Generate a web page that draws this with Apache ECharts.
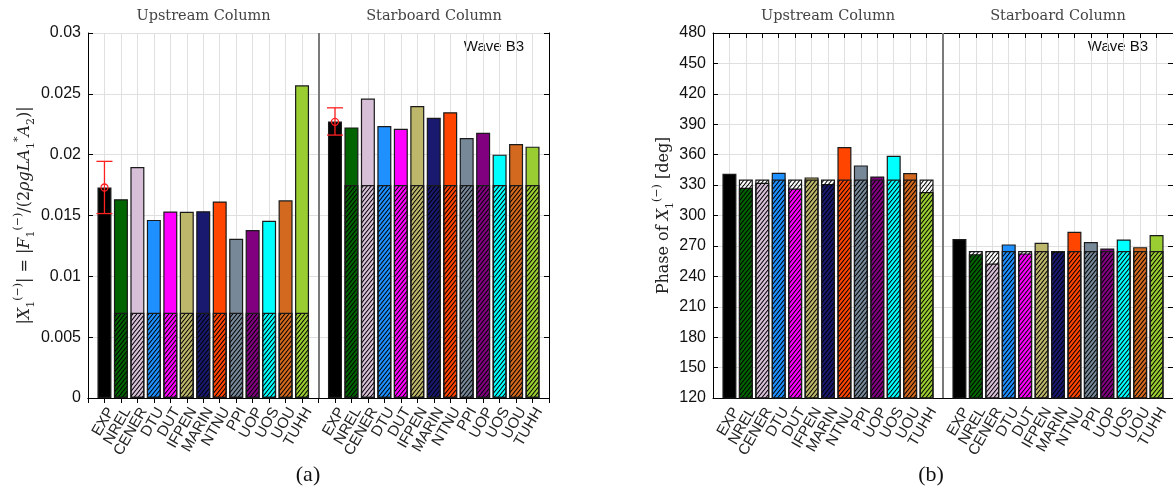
<!DOCTYPE html>
<html><head><meta charset="utf-8">
<script src="https://cdn.jsdelivr.net/npm/echarts@6/dist/echarts.min.js"></script>
<style>html,body{margin:0;padding:0;background:#fff}#c{width:1173px;height:489px}</style>
</head><body><div id="c"></div>
<script>
// ---- data ----
const models = ['EXP','NREL','CENER','DTU','DUT','IFPEN','MARIN','NTNU','PPI','UOP','UOS','UOU','TUHH'];
const modelColors = ['#000000','#006400','#D8BFD8','#1E90FF','#FF00FF','#BDB76B','#191970','#FF4500','#778899','#800080','#00FFFF','#D2691E','#9ACD32'];
const ampUpstream = [0.0173,0.01634,0.01898,0.01464,0.01533,0.0153,0.01535,0.01615,0.01308,0.0138,0.01456,0.01625,0.0257];
const ampStarboard = [0.02273,0.02224,0.02461,0.02235,0.02213,0.02399,0.02303,0.02349,0.02136,0.0218,0.0200,0.02087,0.02066];
const ampHatchUpstream = 0.007;
const ampHatchStarboard = 0.0175;
const expErrUpstream = [0.01516, 0.01945, 0.0173];
const expErrStarboard = [0.02161, 0.02385, 0.0227];
const phaseUpstream = [341.2,327.3,332.3,342.1,326.7,337.6,331.0,367.5,349.4,338.5,358.9,341.8,323.1];
const phaseStarboard = [276.8,261.9,252.7,271.5,262.6,273.1,264.2,283.9,273.8,267.5,276.4,268.8,280.7];
const phaseHatchUpstream = 335.5;
const phaseHatchStarboard = 265;
const ampAxis = {min: 0, max: 0.03, interval: 0.005};
const phaseAxis = {min: 120, max: 480, interval: 30};

// ---- build ----
const xLabels = [''].concat(models, [''], models, ['']);
const cats = xLabels.map((_, i) => String(i));
const SEP = 14;

function coloredData(up, st) {
  const d = [];
  for (let i = 0; i < xLabels.length; i++) d.push('-');
  up.forEach((v, k) => { d[1 + k] = {value: v, itemStyle: {color: modelColors[k]}}; });
  st.forEach((v, k) => { d[SEP + 1 + k] = {value: v, itemStyle: {color: modelColors[k]}}; });
  return d;
}
function hatchData(hu, hs) {
  const d = [];
  for (let i = 0; i < xLabels.length; i++) d.push('-');
  for (let k = 1; k < models.length; k++) { d[1 + k] = hu; d[SEP + 1 + k] = hs; }
  return d;
}

// hatch pattern
const pc = document.createElement('canvas');
const PW = 4, PH = 5;
pc.width = PW; pc.height = PH;
const pctx = pc.getContext('2d');
pctx.strokeStyle = '#000';
pctx.lineWidth = 1.05;
for (let k = -1; k <= 1; k++) {
  pctx.beginPath(); pctx.moveTo(k * PW, PH); pctx.lineTo(k * PW + PW, 0); pctx.stroke();
}
const hatchFill = {image: pc, repeat: 'repeat'};

const sansFont = 'Liberation Sans';
const serifFont = 'DejaVu Serif';

function xAxes(gi) {
  return [
    {type: 'category', gridIndex: gi, data: cats, boundaryGap: false, position: 'bottom',
     axisLine: {lineStyle: {color: '#000', width: 1}},
     axisTick: {show: true, inside: true, length: 5, interval: 0, lineStyle: {color: '#000'}},
     axisLabel: {interval: 0, rotate: 60, margin: 7, verticalAlign: 'top', fontFamily: sansFont, fontSize: 15, color: '#222',
       formatter: (v) => xLabels[+v]},
     splitLine: {show: true, interval: 0, lineStyle: {color: '#e0e0e0', width: 1}}},
    {type: 'category', gridIndex: gi, data: cats, boundaryGap: false, position: 'top',
     axisLine: {lineStyle: {color: '#000', width: 1}},
     axisTick: {show: true, inside: true, length: 5, interval: 0, lineStyle: {color: '#000'}},
     axisLabel: {show: false}, splitLine: {show: false}}
  ];
}
const nameRich = {
  i: {fontFamily: serifFont, fontStyle: 'italic', fontSize: 16, color: '#222'},
  v: {fontFamily: serifFont, fontSize: 16, color: '#222'},
  s: {fontFamily: serifFont, fontSize: 11, color: '#222', verticalAlign: 'bottom'},
  p: {fontFamily: serifFont, fontSize: 11, color: '#222', verticalAlign: 'top'}
};
function yAxes(gi, ax, name, nameGap, fmt) {
  return [
    {type: 'value', gridIndex: gi, position: 'left', min: ax.min, max: ax.max, interval: ax.interval,
     axisLine: {show: true, lineStyle: {color: '#000', width: 1}},
     axisTick: {show: true, inside: true, length: 5, lineStyle: {color: '#000'}},
     axisLabel: {fontFamily: sansFont, fontSize: 16, color: '#111', margin: 7, formatter: fmt},
     splitLine: {show: true, lineStyle: {color: '#e0e0e0', width: 1}},
     name: name, nameLocation: 'middle', nameGap: nameGap,
     nameTextStyle: {fontFamily: serifFont, fontSize: 16, color: '#222', lineHeight: 24, rich: nameRich}},
    {type: 'value', gridIndex: gi, position: 'right', min: ax.min, max: ax.max, interval: ax.interval,
     axisLine: {show: true, lineStyle: {color: '#000', width: 1}},
     axisTick: {show: true, inside: true, length: 5, lineStyle: {color: '#000'}},
     axisLabel: {show: false}, splitLine: {show: false}}
  ];
}

function barSeries(xi, yi, colored, hatch) {
  return [
    {type: 'bar', xAxisIndex: xi, yAxisIndex: yi, data: colored, barWidth: 14, barGap: '-100%', clip: true,
     itemStyle: {borderColor: '#1a1a1a', borderWidth: 1.2},
     markLine: {silent: true, symbol: ['none', 'none'], label: {show: false},
       lineStyle: {color: '#7a7a7a', width: 2, type: 'solid'},
       data: [{xAxis: String(SEP)}]}},
    {type: 'bar', xAxisIndex: xi, yAxisIndex: yi, data: hatch, barWidth: 14, barGap: '-100%', clip: true,
     itemStyle: {color: hatchFill, borderColor: '#1a1a1a', borderWidth: 1.2}}
  ];
}

function errorSeries(xi, yi, data) {
  return {type: 'custom', xAxisIndex: xi, yAxisIndex: yi, data: data, z: 10,
    renderItem: function (params, api) {
      const x = api.value(0);
      const lo = api.coord([x, api.value(1)]);
      const hi = api.coord([x, api.value(2)]);
      const mid = api.coord([x, api.value(3)]);
      const hw = 8;
      const st = {stroke: '#ff2020', lineWidth: 1.3, fill: 'none'};
      return {type: 'group', children: [
        {type: 'line', shape: {x1: lo[0], y1: lo[1], x2: hi[0], y2: hi[1]}, style: st},
        {type: 'line', shape: {x1: lo[0] - hw, y1: lo[1], x2: lo[0] + hw, y2: lo[1]}, style: st},
        {type: 'line', shape: {x1: hi[0] - hw, y1: hi[1], x2: hi[0] + hw, y2: hi[1]}, style: st},
        {type: 'circle', shape: {cx: mid[0], cy: mid[1], r: 3.5}, style: {stroke: '#ff2020', lineWidth: 1.3, fill: 'none'}}
      ]};
    }};
}

const ampFmt = v => (v === 0 ? '0' : String(+v.toFixed(3)));
const phaseFmt = v => String(Math.round(v));
const ampName = '{v||}{i|X}{s|1}{p|(\u2212)}{v|| = |}{i|F}{s|1}{p|(\u2212)}{v|/(2}{i|\u03C1gLA}{s|1}{p|*}{i|A}{s|2}{v|)|}';
const phaseName = '{v|Phase of }{i|X}{s|1}{p|(\u2212)}{v| [deg]}';

const option = {
  animation: false,
  backgroundColor: '#fff',
  grid: [
    {left: 88, top: 33, width: 461, height: 365, containLabel: false, outerBoundsMode: 'none'},
    {left: 713, top: 33, width: 460, height: 365, containLabel: false, outerBoundsMode: 'none'}
  ],
  xAxis: xAxes(0).concat(xAxes(1)),
  yAxis: yAxes(0, ampAxis, ampName, 50, ampFmt).concat(yAxes(1, phaseAxis, phaseName, 36, phaseFmt)),
  series: []
    .concat(barSeries(0, 0, coloredData(ampUpstream, ampStarboard), hatchData(ampHatchUpstream, ampHatchStarboard)))
    .concat([errorSeries(0, 0, [[1].concat(expErrUpstream), [SEP + 1].concat(expErrStarboard)])])
    .concat(barSeries(2, 2, coloredData(phaseUpstream, phaseStarboard), hatchData(phaseHatchUpstream, phaseHatchStarboard))),
  graphic: [
    {type: 'text', x: 203.5, y: 16, style: {text: 'Upstream Column', textAlign: 'center', textVerticalAlign: 'middle', font: '14.5px "DejaVu Serif"', fill: '#444'}},
    {type: 'text', x: 434, y: 16, style: {text: 'Starboard Column', textAlign: 'center', textVerticalAlign: 'middle', font: '14.5px "DejaVu Serif"', fill: '#444'}},
    {type: 'text', x: 828, y: 16, style: {text: 'Upstream Column', textAlign: 'center', textVerticalAlign: 'middle', font: '14.5px "DejaVu Serif"', fill: '#444'}},
    {type: 'text', x: 1058, y: 16, style: {text: 'Starboard Column', textAlign: 'center', textVerticalAlign: 'middle', font: '14.5px "DejaVu Serif"', fill: '#444'}},
    {type: 'text', x: 494, y: 47, style: {text: 'Wave B3', textAlign: 'center', textVerticalAlign: 'middle', font: '15px "Liberation Sans"', fill: '#111'}},
    {type: 'text', x: 1118, y: 47, style: {text: 'Wave B3', textAlign: 'center', textVerticalAlign: 'middle', font: '15px "Liberation Sans"', fill: '#111'}},
    {type: 'text', x: 308, y: 475, style: {text: '(a)', textAlign: 'center', textVerticalAlign: 'middle', font: '22px "Liberation Serif"', fill: '#111'}},
    {type: 'text', x: 931, y: 475, style: {text: '(b)', textAlign: 'center', textVerticalAlign: 'middle', font: '22px "Liberation Serif"', fill: '#111'}}
  ]
};
const chart = echarts.init(document.getElementById('c'), null, {renderer: 'canvas'});
chart.setOption(option);
</script>
</body></html>
